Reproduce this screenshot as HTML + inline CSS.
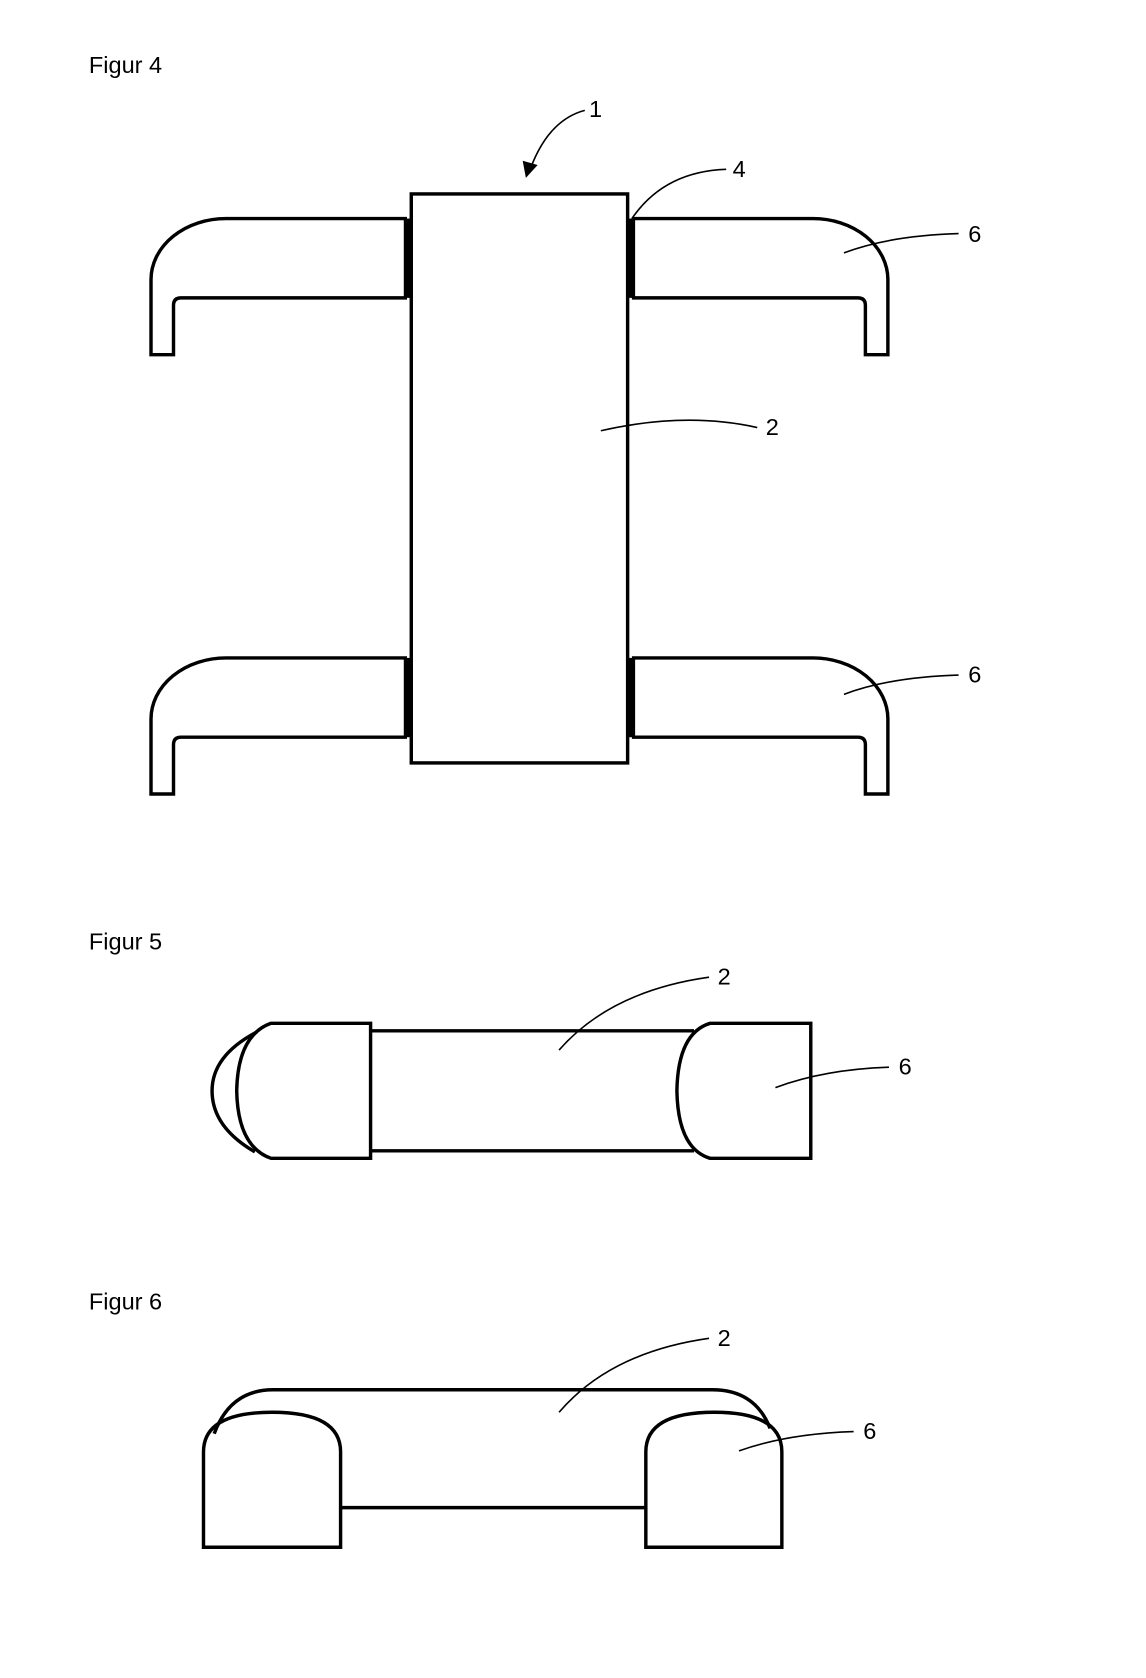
<!DOCTYPE html>
<html><head><style>
html,body{margin:0;padding:0;background:#fff;width:1146px;height:1678px;overflow:hidden}
svg{display:block}
text{font-family:"Liberation Sans",sans-serif;font-size:22px;fill:#000}
</style></head><body>
<svg width="1146" height="1678" viewBox="0 0 1070 1566" preserveAspectRatio="none" xmlns="http://www.w3.org/2000/svg">
<defs>
<g id="clipL">
<path d="M380 204 H211 A70 57 0 0 0 141 261 V331 H162 V285 Q162 278 169 278 H380" fill="none" stroke="#000" stroke-width="3.2"/>
<rect x="377" y="204" width="7" height="74" fill="#000"/>
</g>
</defs>
<text x="83" y="68">Figur 4</text>
<text x="550" y="109">1</text>
<path d="M546 103 Q512 112 495 158" fill="none" stroke="#000" stroke-width="1.5"/>
<path d="M491 166 L488 150 L502 154 Z" fill="#000"/>
<text x="684" y="165">4</text>
<path d="M678 158 Q620 160 590 204" fill="none" stroke="#000" stroke-width="1.5"/>
<use href="#clipL"/>
<use href="#clipL" transform="translate(970 0) scale(-1 1)"/>
<use href="#clipL" transform="translate(0 410)"/>
<use href="#clipL" transform="translate(970 410) scale(-1 1)"/>
<rect x="384" y="181" width="202" height="531" fill="#fff" stroke="#000" stroke-width="3.2"/>
<text x="904" y="226">6</text>
<path d="M895 218 Q830 220 788 236" fill="none" stroke="#000" stroke-width="1.5"/>
<text x="715" y="406">2</text>
<path d="M707 399 Q640 384 561 402" fill="none" stroke="#000" stroke-width="1.5"/>
<text x="904" y="637">6</text>
<path d="M895 630 Q830 632 788 648" fill="none" stroke="#000" stroke-width="1.5"/>

<text x="83" y="886">Figur 5</text>
<g fill="none" stroke="#000" stroke-width="3.2">
<path d="M346 962 H648 M346 1074 H648"/>
<path d="M240 963 Q198 985 198 1018 Q198 1052 238 1075"/>
<path d="M346 955 V1081 H253 Q222 1070 221 1018 Q222 966 253 955 Z"/>
<path d="M757 955 V1081 H663 Q633 1072 632 1018 Q633 964 663 955 Z"/>
</g>
<text x="670" y="919">2</text>
<path d="M662 912 Q570 925 522 980" fill="none" stroke="#000" stroke-width="1.5"/>
<text x="839" y="1003">6</text>
<path d="M830 996 Q770 998 724 1015" fill="none" stroke="#000" stroke-width="1.5"/>

<text x="83" y="1222">Figur 6</text>
<g fill="none" stroke="#000" stroke-width="3.2">
<path d="M200 1338 Q215 1297 255 1297 H665 Q705 1297 719 1333"/>
<path d="M318 1407 H603"/>
<path d="M190 1444 V1355 Q190 1318 254 1318 Q318 1318 318 1355 V1444 Z"/>
<path d="M603 1444 V1355 Q603 1318 667 1318 Q730 1318 730 1355 V1444 Z"/>
</g>
<text x="670" y="1256">2</text>
<path d="M662 1249 Q570 1262 522 1318" fill="none" stroke="#000" stroke-width="1.5"/>
<text x="806" y="1343">6</text>
<path d="M797 1336 Q735 1338 690 1354" fill="none" stroke="#000" stroke-width="1.5"/>
</svg>
</body></html>
